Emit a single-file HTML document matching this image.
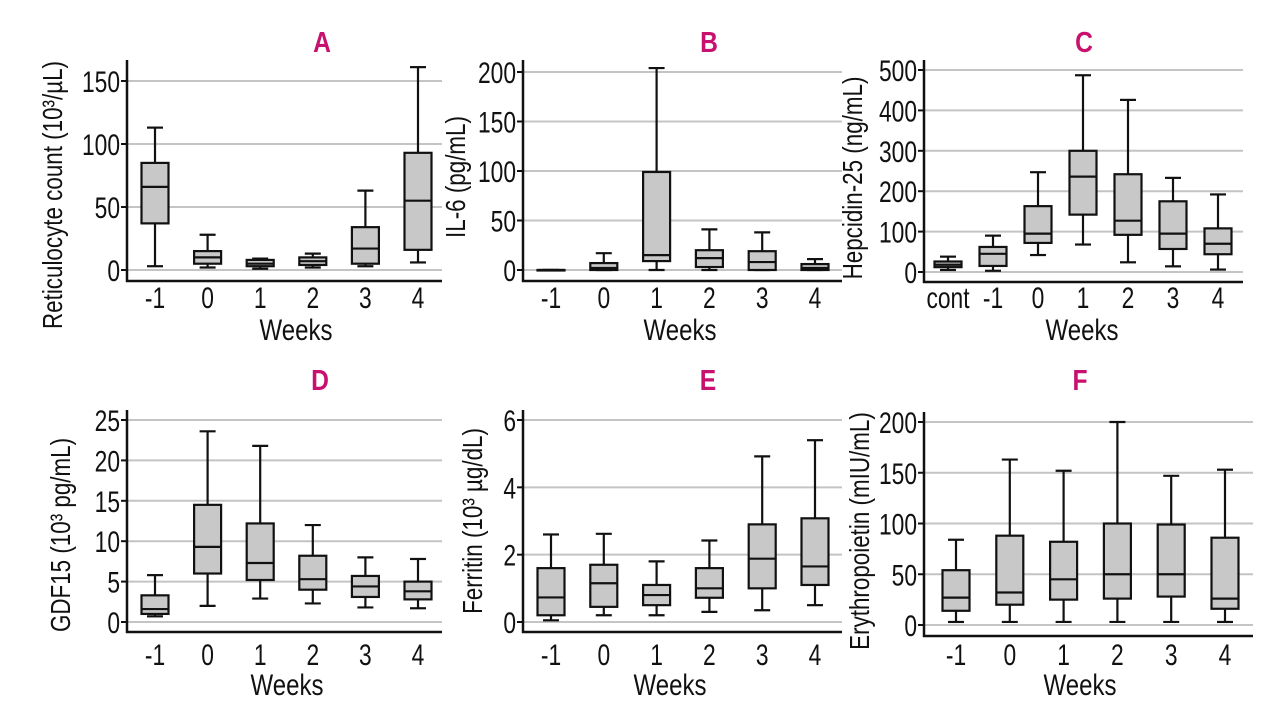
<!DOCTYPE html>
<html><head><meta charset="utf-8">
<style>
html,body{margin:0;padding:0;background:#fff;}
svg{display:block;}
text{font-family:"Liberation Sans",sans-serif;fill:#111;}
</style></head>
<body>
<svg id="fig" width="1280" height="715" viewBox="0 0 1280 715" xmlns="http://www.w3.org/2000/svg"></svg>
<script>
// Panel A: Reticulocyte count
const aCats=["-1","0","1","2","3","4"];
const aLow=[3,2,1,2,3,6];
const aQ1=[37,5,3,4,5,16];
const aMed=[66,10,5,7,17,55];
const aQ3=[85,15,8,10,34,93];
const aHigh=[113,28,9,13,63,161];
const aTicks=[0,50,100,150];
// Panel B: IL-6
const bCats=["-1","0","1","2","3","4"];
const bLow=[0,0,0,0,0,0];
const bQ1=[0,0,9,3,0,0];
const bMed=[0,2,15,12,8,2];
const bQ3=[0,7,99,20,19,6];
const bHigh=[0,17,204,41,38,11];
const bTicks=[0,50,100,150,200];
// Panel C: Hepcidin-25
const cCats=["cont","-1","0","1","2","3","4"];
const cLow=[5,3,42,68,24,14,6];
const cQ1=[12,15,72,142,92,57,44];
const cMed=[18,45,95,236,127,95,70];
const cQ3=[26,62,163,300,242,175,108];
const cHigh=[38,90,247,487,426,233,192];
const cTicks=[0,100,200,300,400,500];
// Panel D: GDF15
const dCats=["-1","0","1","2","3","4"];
const dLow=[0.7,2,2.9,2.3,1.8,1.7];
const dQ1=[1,6,5.2,4,3.1,2.8];
const dMed=[1.6,9.3,7.3,5.3,4.4,3.8];
const dQ3=[3.3,14.5,12.2,8.2,5.7,5];
const dHigh=[5.8,23.6,21.8,12,8,7.8];
const dTicks=[0,5,10,15,20,25];
// Panel E: Ferritin
const eCats=["-1","0","1","2","3","4"];
const eLow=[0.05,0.2,0.2,0.3,0.35,0.5];
const eQ1=[0.2,0.45,0.5,0.72,1.0,1.1];
const eMed=[0.73,1.15,0.8,1.0,1.88,1.65];
const eQ3=[1.6,1.7,1.1,1.6,2.9,3.08];
const eHigh=[2.6,2.62,1.8,2.42,4.92,5.4];
const eTicks=[0,2,4,6];
// Panel F: Erythropoietin
const fCats=["-1","0","1","2","3","4"];
const fLow=[3,3,3,3,3,3];
const fQ1=[14,20,25,26,28,16];
const fMed=[27,32,45,50,50,26];
const fQ3=[54,88,82,100,99,86];
const fHigh=[84,163,152,200,147,153];
const fTicks=[0,50,100,150,200];

const NS="http://www.w3.org/2000/svg";
const svg=document.getElementById('fig');
function mk(tag,attrs,parent){const e=document.createElementNS(NS,tag);for(const k in attrs)e.setAttribute(k,attrs[k]);(parent||svg).appendChild(e);return e;}
function txt(s,x,y,size,anchor,parent,rot,color,bold,sx){
  const g=mk('g',{transform:`translate(${x},${y})`+(rot?` rotate(${rot})`:'')+` scale(${sx||0.8},1)`},parent);
  const t=mk('text',{x:0,y:0,'font-size':size,'text-anchor':anchor||'middle','font-weight':bold?'bold':'normal'},g);
  if(color)t.setAttribute('style','fill:'+color);
  t.textContent=s;return t;
}
const P=[
 {id:'a',title:'A',tx:322,ty:52,ax:127,right:442,y0:270,yT:81,vT:150,bottom:281,top:60,x0:155,step:52.6,cats:aCats,lo:aLow,q1:aQ1,md:aMed,q3:aQ3,hi:aHigh,ticks:aTicks,yl:'Reticulocyte count (10³/µL)',ylx:62,yly:195,wk:296,wky:340,tky:308},
 {id:'b',title:'B',tx:709,ty:52,ax:523,right:842,y0:270,yT:72,vT:200,bottom:281,top:60,x0:551,step:52.8,cats:bCats,lo:bLow,q1:bQ1,md:bMed,q3:bQ3,hi:bHigh,ticks:bTicks,yl:'IL-6 (pg/mL)',ylx:465,yly:177,wk:680,wky:340,tky:308},
 {id:'c',title:'C',tx:1084,ty:52,ax:924,right:1243,y0:272,yT:70,vT:500,bottom:282,top:60,x0:948,step:45,cats:cCats,lo:cLow,q1:cQ1,md:cMed,q3:cQ3,hi:cHigh,ticks:cTicks,yl:'Hepcidin-25 (ng/mL)',ylx:862,yly:178,wk:1082,wky:340,tky:308},
 {id:'d',title:'D',tx:320,ty:390,ax:127,right:442,y0:622,yT:420,vT:25,bottom:632,top:410,x0:155,step:52.6,cats:dCats,lo:dLow,q1:dQ1,md:dMed,q3:dQ3,hi:dHigh,ticks:dTicks,yl:'GDF15 (10³ pg/mL)',ylx:70,yly:535,wk:287,wky:695,tky:665},
 {id:'e',title:'E',tx:708,ty:390,ax:523,right:842,y0:622,yT:420,vT:6,bottom:632,top:410,x0:551,step:52.8,cats:eCats,lo:eLow,q1:eQ1,md:eMed,q3:eQ3,hi:eHigh,ticks:eTicks,yl:'Ferritin (10³ µg/dL)',ylx:482,yly:521,wk:670,wky:695,tky:665},
 {id:'f',title:'F',tx:1080,ty:390,ax:924,right:1253,y0:625,yT:422,vT:200,bottom:636,top:412,x0:956,step:53.8,cats:fCats,lo:fLow,q1:fQ1,md:fMed,q3:fQ3,hi:fHigh,ticks:fTicks,yl:'Erythropoietin (mIU/mL)',ylx:869,yly:531,wk:1080,wky:695,tky:665}
];
P.forEach(p=>{
  const g=mk('g',{});
  
  
  const ys=v=>p.y0-(v/p.vT)*(p.y0-p.yT);
  const xs=i=>p.x0+i*p.step;
  const t=txt(p.title,p.tx,p.ty,29,'middle',g,0,'#c8106e',true,0.85);
  
  
  p.ticks.forEach(v=>{
    const gl=mk('line',{x1:p.ax,x2:p.right,y1:ys(v),y2:ys(v),stroke:'#c4c4c4','stroke-width':2},g);
    
    
    mk('line',{x1:p.ax-6,x2:p.ax,y1:ys(v),y2:ys(v),stroke:'#111','stroke-width':2},g);
    const tl=txt(String(v),p.ax-7,ys(v)+11,30,'end',g,0,null,false,0.76);
    
    
  });
  const ya=mk('line',{x1:p.ax,x2:p.ax,y1:p.top,y2:p.bottom+1,stroke:'#111','stroke-width':2.5},g);
  
  
  const xa=mk('line',{x1:p.ax-1,x2:p.right,y1:p.bottom,y2:p.bottom,stroke:'#111','stroke-width':2.5},g);
  
  
  p.cats.forEach((c,i)=>{
    const x=xs(i),w=13.5;
    const bg=mk('g',{},g);
    
    
    mk('line',{x1:x,x2:x,y1:ys(p.hi[i]),y2:ys(p.q3[i]),stroke:'#111','stroke-width':2.2},bg);
    mk('line',{x1:x,x2:x,y1:ys(p.lo[i]),y2:ys(p.q1[i]),stroke:'#111','stroke-width':2.2},bg);
    mk('line',{x1:x-8,x2:x+8,y1:ys(p.hi[i]),y2:ys(p.hi[i]),stroke:'#111','stroke-width':2.2},bg);
    mk('line',{x1:x-8,x2:x+8,y1:ys(p.lo[i]),y2:ys(p.lo[i]),stroke:'#111','stroke-width':2.2},bg);
    mk('rect',{x:x-w,y:ys(p.q3[i]),width:2*w,height:Math.max(0.5,ys(p.q1[i])-ys(p.q3[i])),fill:'#c8c8c8',stroke:'#111','stroke-width':2.2},bg);
    mk('line',{x1:x-w,x2:x+w,y1:ys(p.md[i]),y2:ys(p.md[i]),stroke:'#111','stroke-width':2.2},bg);
    const xl=txt(c,x,p.tky,30,'middle',g,0,null,false,0.76);
    
    
  });
  const wl=txt('Weeks',p.wk,p.wky,30,'middle',g,0,null,false,0.8);
  
  
  const yl=txt(p.yl,p.ylx,p.yly,28,'middle',g,-90,null,false,0.8);
  
  
});
</script>
</body></html>
